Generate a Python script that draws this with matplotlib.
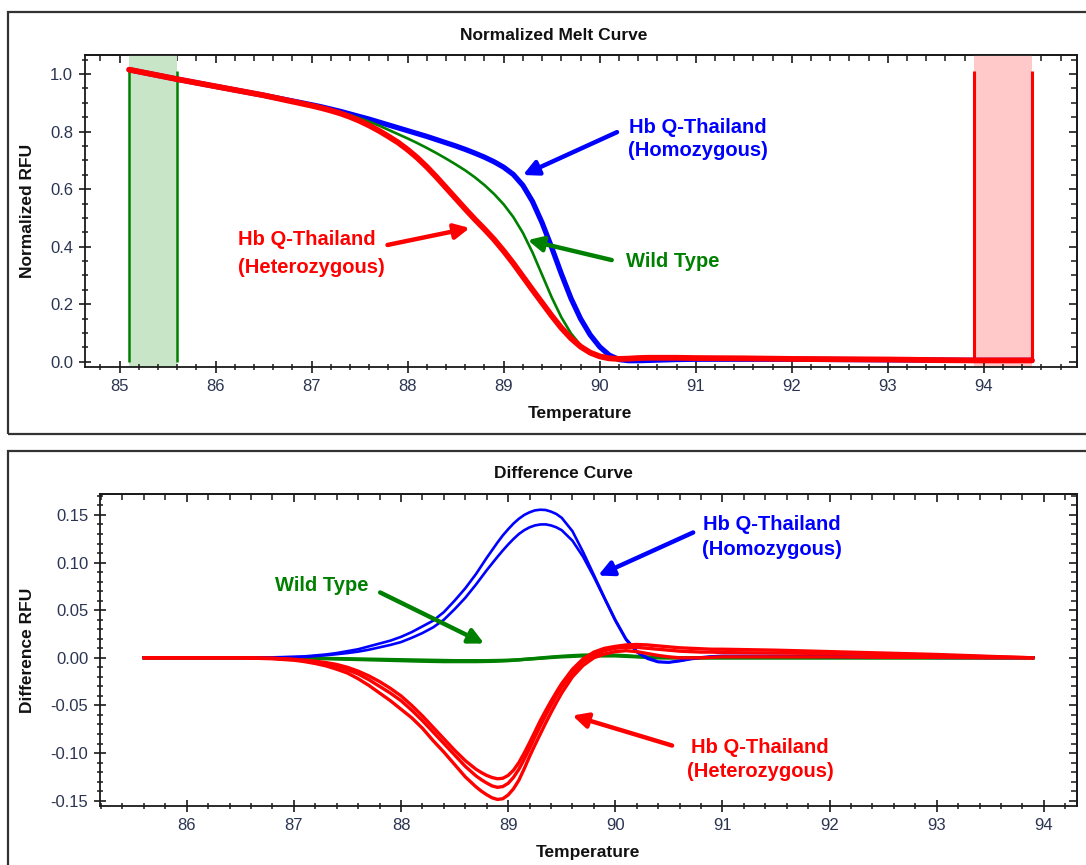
import matplotlib
matplotlib.use("Agg")
import matplotlib.pyplot as plt
from matplotlib.patches import Rectangle
from matplotlib.ticker import MultipleLocator, FormatStrFormatter

plt.rcParams['font.family'] = ['Liberation Sans', 'DejaVu Sans']
plt.rcParams['axes.unicode_minus'] = False

W, H, DPI = 1086, 865, 100

# ---------------- Normalized melt curve ----------------
melt_temp = [85.1, 85.6, 86.0, 86.5,
             87.0, 87.1, 87.2, 87.3, 87.4, 87.5, 87.6, 87.7, 87.8, 87.9,
             88.0, 88.1, 88.2, 88.3, 88.4, 88.5, 88.6, 88.7, 88.8, 88.9,
             89.0, 89.1, 89.2, 89.3, 89.4, 89.5, 89.6, 89.7, 89.8, 89.9,
             90.0, 90.1, 90.2, 90.3, 90.4, 90.5, 90.6,
             90.8, 91.0, 91.5, 92.0, 92.5, 93.0, 93.5, 93.9, 94.5]
melt_homozygous = [1.015, 0.982, 0.957, 0.926,
                   0.893, 0.886, 0.878, 0.870, 0.861, 0.852, 0.843, 0.833, 0.823, 0.813,
                   0.803, 0.793, 0.783, 0.772, 0.761, 0.750, 0.738, 0.725, 0.711, 0.695,
                   0.676, 0.651, 0.613, 0.557, 0.483, 0.397, 0.306, 0.221, 0.150, 0.094,
                   0.052, 0.023, 0.008, 0.004, 0.004, 0.005, 0.006,
                   0.008, 0.009, 0.009, 0.009, 0.008, 0.007, 0.006, 0.005, 0.005]
melt_wild_type = [1.015, 0.982, 0.957, 0.926,
                  0.891, 0.884, 0.876, 0.867, 0.857, 0.846, 0.834, 0.821, 0.806, 0.791,
                  0.776, 0.760, 0.743, 0.725, 0.706, 0.686, 0.665, 0.641, 0.614, 0.583,
                  0.547, 0.503, 0.448, 0.380, 0.302, 0.224, 0.155, 0.099, 0.058, 0.031,
                  0.015, 0.008, 0.007, 0.009, 0.011, 0.012, 0.013,
                  0.013, 0.012, 0.011, 0.010, 0.009, 0.008, 0.006, 0.005, 0.005]
melt_heterozygous = [1.015, 0.982, 0.957, 0.926,
                     0.890, 0.882, 0.873, 0.863, 0.851, 0.837, 0.821, 0.803, 0.783, 0.762,
                     0.737, 0.709, 0.677, 0.642, 0.605, 0.568, 0.531, 0.495, 0.461, 0.425,
                     0.385, 0.342, 0.296, 0.250, 0.205, 0.160, 0.118, 0.082, 0.053, 0.032,
                     0.019, 0.012, 0.010, 0.011, 0.013, 0.014, 0.014,
                     0.014, 0.013, 0.012, 0.010, 0.009, 0.008, 0.006, 0.005, 0.005]

start_region = [85.1, 85.6]
end_region = [93.9, 94.5]
region_top = 1.01

# ---------------- Difference curve ----------------
diff_temp = [85.6, 86.0, 86.5, 86.8,
             87.0, 87.1, 87.2, 87.3, 87.4, 87.5, 87.6, 87.7, 87.8, 87.9,
             88.0, 88.1, 88.2, 88.3, 88.4, 88.5, 88.6,
             88.7, 88.75, 88.8, 88.85, 88.9, 88.95, 89.0, 89.05, 89.1, 89.15,
             89.2, 89.25, 89.3, 89.35, 89.4, 89.45, 89.5,
             89.6, 89.7, 89.8, 89.9, 90.0, 90.1, 90.2, 90.3, 90.4, 90.5,
             90.6, 90.7, 90.8, 90.9, 91.0,
             91.5, 92.0, 92.5, 93.0, 93.5, 93.9]
diff_homozygous_1 = [0.0, 0.0, 0.0, 0.0005,
                     0.001, 0.0015, 0.0025, 0.0035, 0.005, 0.007, 0.009, 0.012, 0.015,
                     0.018, 0.022, 0.027, 0.033, 0.039, 0.048, 0.060, 0.073,
                     0.088, 0.0965, 0.105, 0.113, 0.121, 0.1285, 0.135, 0.141, 0.146,
                     0.150, 0.1528, 0.1548, 0.1555, 0.1552, 0.1535, 0.151, 0.147,
                     0.133, 0.111, 0.087, 0.063, 0.040, 0.020, 0.007, 0.0, -0.004,
                     -0.0045, -0.003, -0.001, 0.0005, 0.0015, 0.002,
                     0.002, 0.0015, 0.001, 0.0005, 0.0, 0.0]
diff_homozygous_2 = [0.0, 0.0, 0.0, 0.0003,
                     0.0008, 0.001, 0.0018, 0.0027, 0.0038, 0.005, 0.0065, 0.0085, 0.011,
                     0.0135, 0.0165, 0.021, 0.026, 0.032, 0.040, 0.051, 0.063,
                     0.077, 0.0845, 0.092, 0.099, 0.106, 0.1127, 0.119, 0.1248, 0.130,
                     0.134, 0.137, 0.139, 0.140, 0.1401, 0.139, 0.137, 0.134,
                     0.123, 0.106, 0.085, 0.062, 0.039, 0.019, 0.006, -0.001, -0.0045,
                     -0.005, -0.0035, -0.0015, 0.0, 0.001, 0.0015,
                     0.0015, 0.001, 0.0005, 0.0, 0.0, 0.0]
diff_wild_type_1 = [0.0, 0.0, 0.0, 0.0,
                    0.0, -0.0002, -0.0004, -0.0006, -0.0008, -0.001, -0.0012, -0.0014,
                    -0.0016, -0.0018, -0.002, -0.0022, -0.0024, -0.0026, -0.0028,
                    -0.003, -0.003,
                    -0.003, -0.003, -0.003, -0.0029, -0.0028, -0.0027, -0.0025, -0.0023,
                    -0.002, -0.0016, -0.0012, -0.0009, -0.0005, -0.0001, 0.0003, 0.0007,
                    0.001,
                    0.0015, 0.002, 0.002, 0.002, 0.002, 0.0015, 0.001, 0.0005, 0.0, 0.0,
                    0.0, 0.0, 0.0, 0.0, 0.0,
                    0.0, 0.0, 0.0, 0.0, 0.0, 0.0]
diff_wild_type_2 = [0.0, 0.0, 0.0, 0.0,
                    0.0, -0.0003, -0.0006, -0.0009, -0.0012, -0.0015, -0.0018, -0.0021,
                    -0.0024, -0.0027, -0.003, -0.0033, -0.0036, -0.0038, -0.004,
                    -0.004, -0.004,
                    -0.004, -0.0039, -0.0038, -0.0037, -0.0035, -0.0033, -0.003, -0.0026,
                    -0.0022, -0.0017, -0.0012, -0.0007, -0.0002, 0.0003, 0.0008, 0.0012,
                    0.0016,
                    0.0023, 0.0028, 0.003, 0.003, 0.0028, 0.0022, 0.0015, 0.0008, 0.0003,
                    0.0, 0.0, 0.0, 0.0, 0.0, 0.0,
                    0.0, 0.0, 0.0, 0.0, 0.0, 0.0]
diff_heterozygous_1 = [0.0, 0.0, 0.0, -0.0005,
                       -0.0015, -0.0025, -0.0035, -0.005, -0.007, -0.010, -0.014, -0.019,
                       -0.025, -0.032, -0.040, -0.050, -0.061, -0.073, -0.085, -0.097,
                       -0.108,
                       -0.117, -0.1205, -0.1235, -0.1257, -0.127, -0.1265, -0.1235,
                       -0.118, -0.110, -0.100, -0.089, -0.0775, -0.066, -0.0555, -0.0455,
                       -0.036, -0.027,
                       -0.012, -0.001, 0.006, 0.010, 0.012, 0.0135, 0.014, 0.0135, 0.0125,
                       0.0115, 0.0105, 0.010, 0.0095, 0.009, 0.009,
                       0.008, 0.0065, 0.005, 0.0035, 0.0015, 0.0]
diff_heterozygous_2 = [0.0, 0.0, 0.0, -0.0005,
                       -0.002, -0.003, -0.0045, -0.0065, -0.009, -0.0125, -0.017, -0.023,
                       -0.030, -0.037, -0.045, -0.055, -0.066, -0.078, -0.090, -0.102,
                       -0.114,
                       -0.124, -0.128, -0.1315, -0.1345, -0.136, -0.1352, -0.1318,
                       -0.1255, -0.117, -0.1065, -0.095, -0.083, -0.0715, -0.0605,
                       -0.050, -0.040, -0.031,
                       -0.016, -0.004, 0.003, 0.0075, 0.010, 0.011, 0.011, 0.010, 0.009,
                       0.008, 0.007, 0.0065, 0.006, 0.006, 0.0055,
                       0.005, 0.0045, 0.0035, 0.0025, 0.001, 0.0]
diff_heterozygous_3 = [0.0, 0.0, 0.0, -0.001,
                       -0.0025, -0.004, -0.006, -0.0085, -0.012, -0.016, -0.022, -0.029,
                       -0.037, -0.045, -0.054, -0.063, -0.074, -0.087, -0.099, -0.112,
                       -0.125,
                       -0.1355, -0.140, -0.1438, -0.147, -0.1487, -0.148, -0.144,
                       -0.1375, -0.1285, -0.1165, -0.1035, -0.0915, -0.080, -0.0685,
                       -0.0575, -0.047, -0.037,
                       -0.020, -0.008, 0.0, 0.004, 0.0065, 0.0075, 0.0065, 0.0045, 0.0025,
                       0.001, 0.0, 0.0, 0.0, 0.0005, 0.001,
                       0.001, 0.001, 0.0005, 0.0005, 0.0, 0.0]

BLUE, GREEN, RED = '#0000ff', '#008000', '#ff0000'
TICK_COLOR = '#2b3552'
AXIS_COLOR = '#1a1a1a'

fig = plt.figure(figsize=(W / DPI, H / DPI), dpi=DPI)
fig.patch.set_facecolor('white')


def fx(px):
    return px / W


def fy(py):
    return 1 - py / H


# panel frames
for top, bottom in [(12, 434), (451, 900)]:
    fig.add_artist(Rectangle((fx(8), fy(bottom)), fx(1120 - 8), (bottom - top) / H,
                             transform=fig.transFigure, fill=False,
                             edgecolor='#333333', linewidth=1.6, zorder=0))


def style_axes(ax, xlim, ylim, xticks, yticks, yminor, yfmt):
    ax.set_xticks(xticks)
    ax.xaxis.set_minor_locator(MultipleLocator(0.2))
    ax.set_yticks(yticks)
    ax.yaxis.set_minor_locator(MultipleLocator(yminor))
    ax.yaxis.set_major_formatter(FormatStrFormatter(yfmt))
    ax.set_xlim(*xlim)
    ax.set_ylim(*ylim)
    for s in ax.spines.values():
        s.set_linewidth(1.3)
        s.set_color(AXIS_COLOR)
    ax.tick_params(which='major', direction='inout', length=9, width=1.2,
                   colors=AXIS_COLOR, labelcolor=TICK_COLOR, labelsize=12, pad=4)
    ax.tick_params(which='minor', direction='inout', length=5, width=1.1,
                   colors=AXIS_COLOR)
    # inward ticks on the top and right edges
    sx = ax.secondary_xaxis('top')
    sx.set_xticks(xticks)
    sx.xaxis.set_minor_locator(MultipleLocator(0.2))
    sx.tick_params(which='major', direction='in', length=6, width=1.2,
                   colors=AXIS_COLOR, labeltop=False)
    sx.tick_params(which='minor', direction='in', length=4, width=1.1,
                   colors=AXIS_COLOR)
    sy = ax.secondary_yaxis('right')
    sy.set_yticks(yticks)
    sy.yaxis.set_minor_locator(MultipleLocator(yminor))
    sy.tick_params(which='major', direction='in', length=6, width=1.2,
                   colors=AXIS_COLOR, labelright=False)
    sy.tick_params(which='minor', direction='in', length=4, width=1.1,
                   colors=AXIS_COLOR)
    for sec in (sx, sy):
        for s in sec.spines.values():
            s.set_linewidth(1.3)
            s.set_color(AXIS_COLOR)


label_kw = dict(fontsize=14.5, fontweight='bold')
arrow_kw = dict(arrowstyle='-|>,head_length=0.9,head_width=0.45', lw=3.2,
                shrinkA=0, shrinkB=0)

# ---------------- top panel ----------------
ax1 = fig.add_axes([fx(85), fy(367), fx(992), 312 / H])
style_axes(ax1, (84.64, 94.97), (-0.018, 1.066), list(range(85, 95)),
           [0.0, 0.2, 0.4, 0.6, 0.8, 1.0], 0.05, '%.1f')

ax1.axvspan(*start_region, color='#c8e5c8', zorder=1, lw=0)
ax1.axvspan(*end_region, color='#ffc9c9', zorder=1, lw=0)
ax1.vlines(start_region, 0.0, region_top, color=GREEN, lw=1.8, zorder=2)
ax1.vlines(end_region, 0.0, region_top, color=RED, lw=2.2, zorder=2)

ax1.plot(melt_temp, melt_homozygous, color=BLUE, lw=3.8, zorder=3,
         solid_capstyle='round', solid_joinstyle='round')
ax1.plot(melt_temp, melt_wild_type, color=GREEN, lw=1.9, zorder=4,
         solid_capstyle='round', solid_joinstyle='round')
ax1.plot(melt_temp, melt_heterozygous, color=RED, lw=4.2, zorder=5,
         solid_capstyle='round', solid_joinstyle='round')

ax1.text(91.02, 0.774, 'Hb Q-Thailand\n(Homozygous)', color=BLUE, ha='center',
         va='center', linespacing=1.3, zorder=6, **label_kw)
ax1.annotate('', xy=(89.20, 0.649), xytext=(90.18, 0.798),
             arrowprops=dict(color=BLUE, **arrow_kw), zorder=6)
ax1.text(90.76, 0.347, 'Wild Type', color=GREEN, ha='center', va='center',
         zorder=6, **label_kw)
ax1.annotate('', xy=(89.25, 0.423), xytext=(90.125, 0.3535),
             arrowprops=dict(color=GREEN, **arrow_kw), zorder=6)
ax1.text(86.23, 0.376, 'Hb Q-Thailand\n(Heterozygous)', color=RED, ha='left',
         va='center', linespacing=1.65, zorder=6, **label_kw)
ax1.annotate('', xy=(88.646, 0.465), xytext=(87.79, 0.406),
             arrowprops=dict(color=RED, **arrow_kw), zorder=6)

# ---------------- bottom panel ----------------
ax2 = fig.add_axes([fx(100), fy(806), fx(977), 312 / H])
style_axes(ax2, (85.19, 94.31), (-0.1556, 0.172), list(range(86, 95)),
           [-0.15, -0.10, -0.05, 0.0, 0.05, 0.10, 0.15], 0.01, '%.2f')

for series in (diff_wild_type_1, diff_wild_type_2):
    ax2.plot(diff_temp, series, color=GREEN, lw=2.4, zorder=3,
             solid_joinstyle='round')
for series in (diff_homozygous_1, diff_homozygous_2):
    ax2.plot(diff_temp, series, color=BLUE, lw=1.9, zorder=4,
             solid_joinstyle='round')
for series in (diff_heterozygous_1, diff_heterozygous_2, diff_heterozygous_3):
    ax2.plot(diff_temp, series, color=RED, lw=2.4, zorder=5,
             solid_joinstyle='round', solid_capstyle='round')

ax2.text(91.465, 0.1269, 'Hb Q-Thailand\n(Homozygous)', color=BLUE, ha='center',
         va='center', linespacing=1.35, zorder=6, **label_kw)
ax2.annotate('', xy=(89.84, 0.0864), xytext=(90.727, 0.1316),
             arrowprops=dict(color=BLUE, **arrow_kw), zorder=6)
ax2.text(87.263, 0.0759, 'Wild Type', color=GREEN, ha='center', va='center',
         zorder=6, **label_kw)
ax2.annotate('', xy=(88.776, 0.015), xytext=(87.805, 0.0686),
             arrowprops=dict(color=GREEN, **arrow_kw), zorder=6)
ax2.text(91.353, -0.1068, 'Hb Q-Thailand\n(Heterozygous)', color=RED, ha='center',
         va='center', linespacing=1.35, zorder=6, **label_kw)
ax2.annotate('', xy=(89.6, -0.0606), xytext=(90.53, -0.0921),
             arrowprops=dict(color=RED, **arrow_kw), zorder=6)

# titles and axis labels
title_kw = dict(fontsize=12.5, fontweight='bold', color='#111111',
                ha='center', va='center')
fig.text(fx(554), fy(35), 'Normalized Melt Curve', **title_kw)
fig.text(fx(563), fy(474), 'Difference Curve', **title_kw)
fig.text(fx(580), fy(413), 'Temperature', **title_kw)
fig.text(fx(588), fy(852), 'Temperature', **title_kw)
fig.text(fx(28), fy(211), 'Normalized RFU', rotation=90, **title_kw)
fig.text(fx(28), fy(650), 'Difference RFU', rotation=90, **title_kw)

fig.savefig('out.png', dpi=DPI, facecolor='white')
